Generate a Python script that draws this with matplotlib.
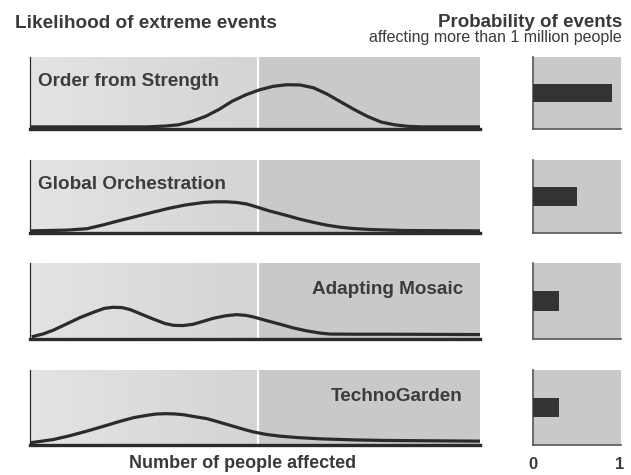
"""Likelihood of extreme events under four scenarios, with event probabilities."""

import numpy as np
import matplotlib
matplotlib.use("Agg")
import matplotlib.pyplot as plt

plt.rcParams["font.family"] = ["Liberation Sans", "DejaVu Sans"]

# scenario names and where their label sits in the panel
scenarios = ["Order from Strength", "Global Orchestration", "Adapting Mosaic", "TechnoGarden"]
label_side = ["left", "left", "right", "right"]

# likelihood curves, x = number of people affected (0..1), y = relative height
curve_x = [
    [0.0, 0.26, 0.30, 0.33, 0.36, 0.39, 0.42, 0.45, 0.48, 0.51, 0.54, 0.57, 0.60, 0.63,
     0.66, 0.69, 0.72, 0.75, 0.78, 0.81, 0.84, 0.87, 1.0],
    [0.0, 0.08, 0.126, 0.16, 0.20, 0.24, 0.274, 0.31, 0.345, 0.385, 0.41, 0.437, 0.46,
     0.481, 0.50, 0.53, 0.57, 0.60, 0.63, 0.66, 0.689, 0.72, 0.756, 0.83, 1.0],
    [0.004, 0.03, 0.052, 0.08, 0.111, 0.14, 0.165, 0.185, 0.205, 0.222, 0.25, 0.274, 0.30,
     0.319, 0.34, 0.363, 0.385, 0.407, 0.435, 0.459, 0.48, 0.496, 0.525, 0.556, 0.585,
     0.615, 0.645, 0.667, 0.72, 0.793, 1.0],
    [0.0, 0.052, 0.09, 0.126, 0.165, 0.20, 0.23, 0.259, 0.28, 0.30, 0.32, 0.341, 0.365,
     0.393, 0.42, 0.452, 0.475, 0.496, 0.525, 0.556, 0.60, 0.644, 0.72, 0.793, 1.0],
]
curve_y = [
    [0.0, 0.0, 0.012, 0.03, 0.08, 0.15, 0.25, 0.37, 0.46, 0.53, 0.58, 0.603, 0.60, 0.56,
     0.47, 0.36, 0.25, 0.15, 0.07, 0.03, 0.008, 0.0, 0.0],
    [0.0, 0.01, 0.03, 0.08, 0.147, 0.21, 0.265, 0.32, 0.365, 0.40, 0.41, 0.41, 0.40,
     0.38, 0.345, 0.285, 0.218, 0.165, 0.12, 0.08, 0.052, 0.032, 0.019, 0.005, 0.0],
    [0.0, 0.04, 0.09, 0.17, 0.26, 0.33, 0.385, 0.40, 0.395, 0.37, 0.30, 0.24, 0.18,
     0.155, 0.152, 0.17, 0.21, 0.25, 0.285, 0.30, 0.29, 0.27, 0.22, 0.17, 0.12,
     0.08, 0.05, 0.037, 0.035, 0.035, 0.03],
    [0.0, 0.045, 0.10, 0.16, 0.23, 0.295, 0.345, 0.377, 0.395, 0.40, 0.397, 0.386, 0.36,
     0.332, 0.285, 0.227, 0.185, 0.15, 0.115, 0.091, 0.07, 0.055, 0.04, 0.032, 0.023],
]

# probability of events affecting more than 1 million people
probability = [0.9, 0.5, 0.3, 0.3]

W, H = 631, 475
panel_rows = [(57, 129), (160, 233), (263, 339), (370, 445)]  # top, bottom in px

text_col = "#3a3a3a"
line_col = "#2b2b2b"
grey = "#c9c9c9"


def px_axes(x0, x1, top, bottom):
    return fig.add_axes([x0 / W, 1 - bottom / H, (x1 - x0) / W, (bottom - top) / H])


fig = plt.figure(figsize=(W / 100, H / 100), dpi=100)
fig.patch.set_facecolor("white")

grad = np.linspace(0.0, 1.0, 64)[None, :]
fade = matplotlib.colors.LinearSegmentedColormap.from_list("fade", ["#e4e4e4", "#d4d4d4"])
split = 0.507

for i, (top, bottom) in enumerate(panel_rows):
    ax = px_axes(30, 480, top, bottom)
    ax.set_xlim(0, 1)
    ax.set_ylim(-0.03, 1)
    ax.set_facecolor(grey)
    # lighter, faded left half
    ax.imshow(grad, extent=[0, split, -0.03, 1], aspect="auto", cmap=fade, zorder=0)
    ax.axvline(split, color="white", lw=1.6, zorder=1)
    ax.plot(curve_x[i], curve_y[i], color=line_col, lw=2.3, solid_capstyle="butt",
            solid_joinstyle="round", zorder=3)
    for s in ["top", "right"]:
        ax.spines[s].set_visible(False)
    ax.spines["left"].set_color(line_col)
    ax.spines["left"].set_linewidth(0.9)
    ax.spines["bottom"].set_color(line_col)
    ax.spines["bottom"].set_linewidth(2.4)
    ax.set_xticks([])
    ax.set_yticks([])

    if label_side[i] == "left":
        ax.text(8 / 450, 0.6, scenarios[i], transform=ax.transAxes, ha="left",
                va="baseline", fontsize=13.6, fontweight="bold", color="#3c3c3c", zorder=4)
    else:
        ax.text(0.962, 0.59, scenarios[i], transform=ax.transAxes, ha="right",
                va="baseline", fontsize=13.6, fontweight="bold", color="#3c3c3c", zorder=4)

    bx = px_axes(533, 621, top, bottom)
    bx.set_xlim(0, 1)
    bx.set_ylim(0, 1)
    bx.set_facecolor(grey)
    bx.barh([0.5], [probability[i]], height=0.26, color="#333333", zorder=3)
    for s in ["top", "right"]:
        bx.spines[s].set_visible(False)
    bx.spines["left"].set_color("#555555")
    bx.spines["left"].set_linewidth(1.2)
    bx.spines["bottom"].set_color("#555555")
    bx.spines["bottom"].set_linewidth(1.2)
    bx.set_xticks([])
    bx.set_yticks([])

fig.text(15 / W, 1 - 28 / H, "Likelihood of extreme events", ha="left", va="baseline",
         fontsize=13.7, fontweight="bold", color=text_col)
fig.text(622 / W, 1 - 27 / H, "Probability of events", ha="right", va="baseline",
         fontsize=13.5, fontweight="bold", color=text_col)
fig.text(622 / W, 1 - 42 / H, "affecting more than 1 million people", ha="right",
         va="baseline", fontsize=11.5, color=text_col)
fig.text(243 / W, 1 - 468 / H, "Number of people affected", ha="center", va="baseline",
         fontsize=13, fontweight="bold", color=text_col)
fig.text(533 / W, 1 - 469 / H, "0", ha="center", va="baseline",
         fontsize=12, fontweight="bold", color=text_col)
fig.text(620 / W, 1 - 469 / H, "1", ha="center", va="baseline",
         fontsize=12, fontweight="bold", color=text_col)

fig.savefig("out.png", dpi=100)
